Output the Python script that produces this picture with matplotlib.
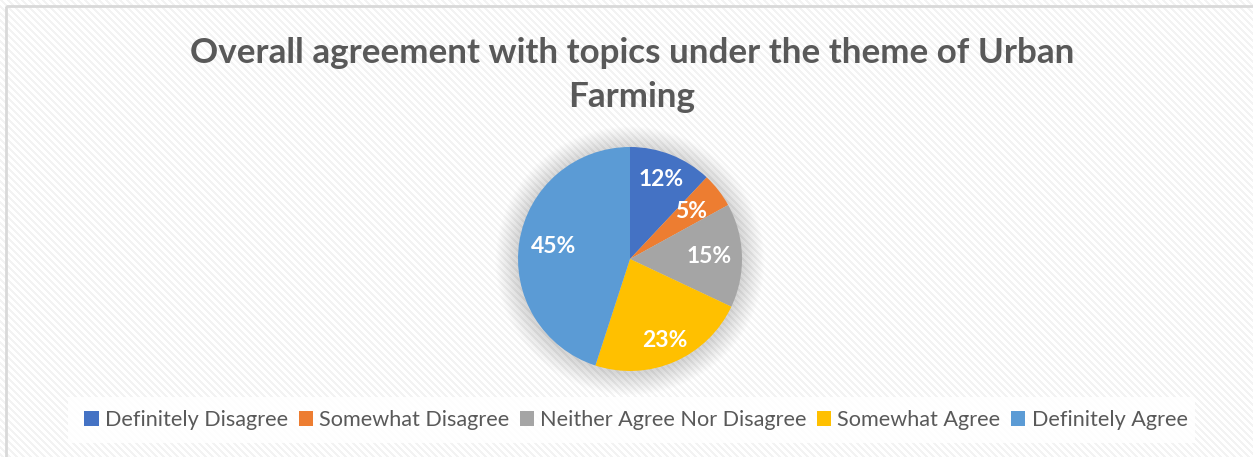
import numpy as np
import matplotlib
matplotlib.use("Agg")
import matplotlib.pyplot as plt
from matplotlib.patches import Circle, Rectangle

# Survey responses for the Urban Farming theme
categories = ["Definitely Disagree", "Somewhat Disagree",
              "Neither Agree Nor Disagree", "Somewhat Agree", "Definitely Agree"]
shares = [12, 5, 15, 23, 45]
colors = ["#4472C4", "#ED7D31", "#A5A5A5", "#FFC000", "#5B9BD5"]
title = "Overall agreement with topics under the theme of Urban\nFarming"

# radial placement of each percentage label (fraction of the radius)
label_radius = [0.76, 0.69, 0.71, 0.79, 0.69]

W, H = 1253, 457
fig = plt.figure(figsize=(W / 100, H / 100), dpi=100)
fig.patch.set_facecolor("white")
plt.rcParams["font.family"] = ["Lato", "DejaVu Sans"]

# Light diagonal stripe texture behind the chart
bg = fig.add_axes([0, 0, 1, 1], zorder=-10)
yy, xx = np.mgrid[0:H, 0:W]
stripes = ((xx - yy) % 7) < 3
tex = np.where(stripes, 0.952, 1.0)
bg.imshow(tex, cmap="gray", vmin=0, vmax=1, extent=[0, W, H, 0],
          interpolation="nearest", aspect="auto")
bg.set_xlim(0, W)
bg.set_ylim(H, 0)
bg.axis("off")
# Chart area border
bg.add_patch(Rectangle((6, 6), W + 10, H + 10, fill=False,
                       edgecolor="#d9d9d9", linewidth=2))
# Legend backdrop
bg.add_patch(Rectangle((68, 397), 1127, 46, facecolor="white",
                       edgecolor="none", alpha=0.85))

# Pie axes centred on the plot area
cx, cy, r_px = 630, 259, 109
half = 140
ax = fig.add_axes([(cx - half) / W, (H - cy - half) / H, 2 * half / W, 2 * half / H])
lim = half / r_px
ax.set_xlim(-lim, lim)
ax.set_ylim(-lim, lim)
ax.set_aspect("equal")
ax.axis("off")

# Soft glow around the pie
for i in range(20):
    rr = 1.0 + 0.01 * (i + 1)
    ax.add_patch(Circle((0, -0.015), rr, facecolor="black", edgecolor="none",
                        alpha=0.009, zorder=0))

wedges, _, autotexts = ax.pie(
    shares, colors=colors, startangle=90, counterclock=False, radius=1.0,
    autopct=lambda p: f"{p:.0f}%", pctdistance=0.73,
    wedgeprops=dict(linewidth=0, edgecolor="white"),
    textprops=dict(color="white", fontsize=16.5, fontweight="bold"),
)
for w, t, d in zip(wedges, autotexts, label_radius):
    w.set_zorder(2)
    mid = np.deg2rad((w.theta1 + w.theta2) / 2)
    t.set_position((d * np.cos(mid), d * np.sin(mid)))
    t.set_zorder(3)

fig.text(632 / W, 1 - 75 / H, title, ha="center", va="center",
         fontsize=25.2, fontweight="bold", color="#595959", linespacing=1.45)

leg = fig.legend(wedges, categories, loc="center", bbox_to_anchor=(636 / W, 1 - 420 / H),
                 ncol=5, frameon=False, fontsize=15.6, handlelength=0.65, handleheight=0.65,
                 handletextpad=0.28, columnspacing=0.5, borderpad=0.3)
for t in leg.get_texts():
    t.set_color("#595959")

fig.savefig("out.png", dpi=100)
